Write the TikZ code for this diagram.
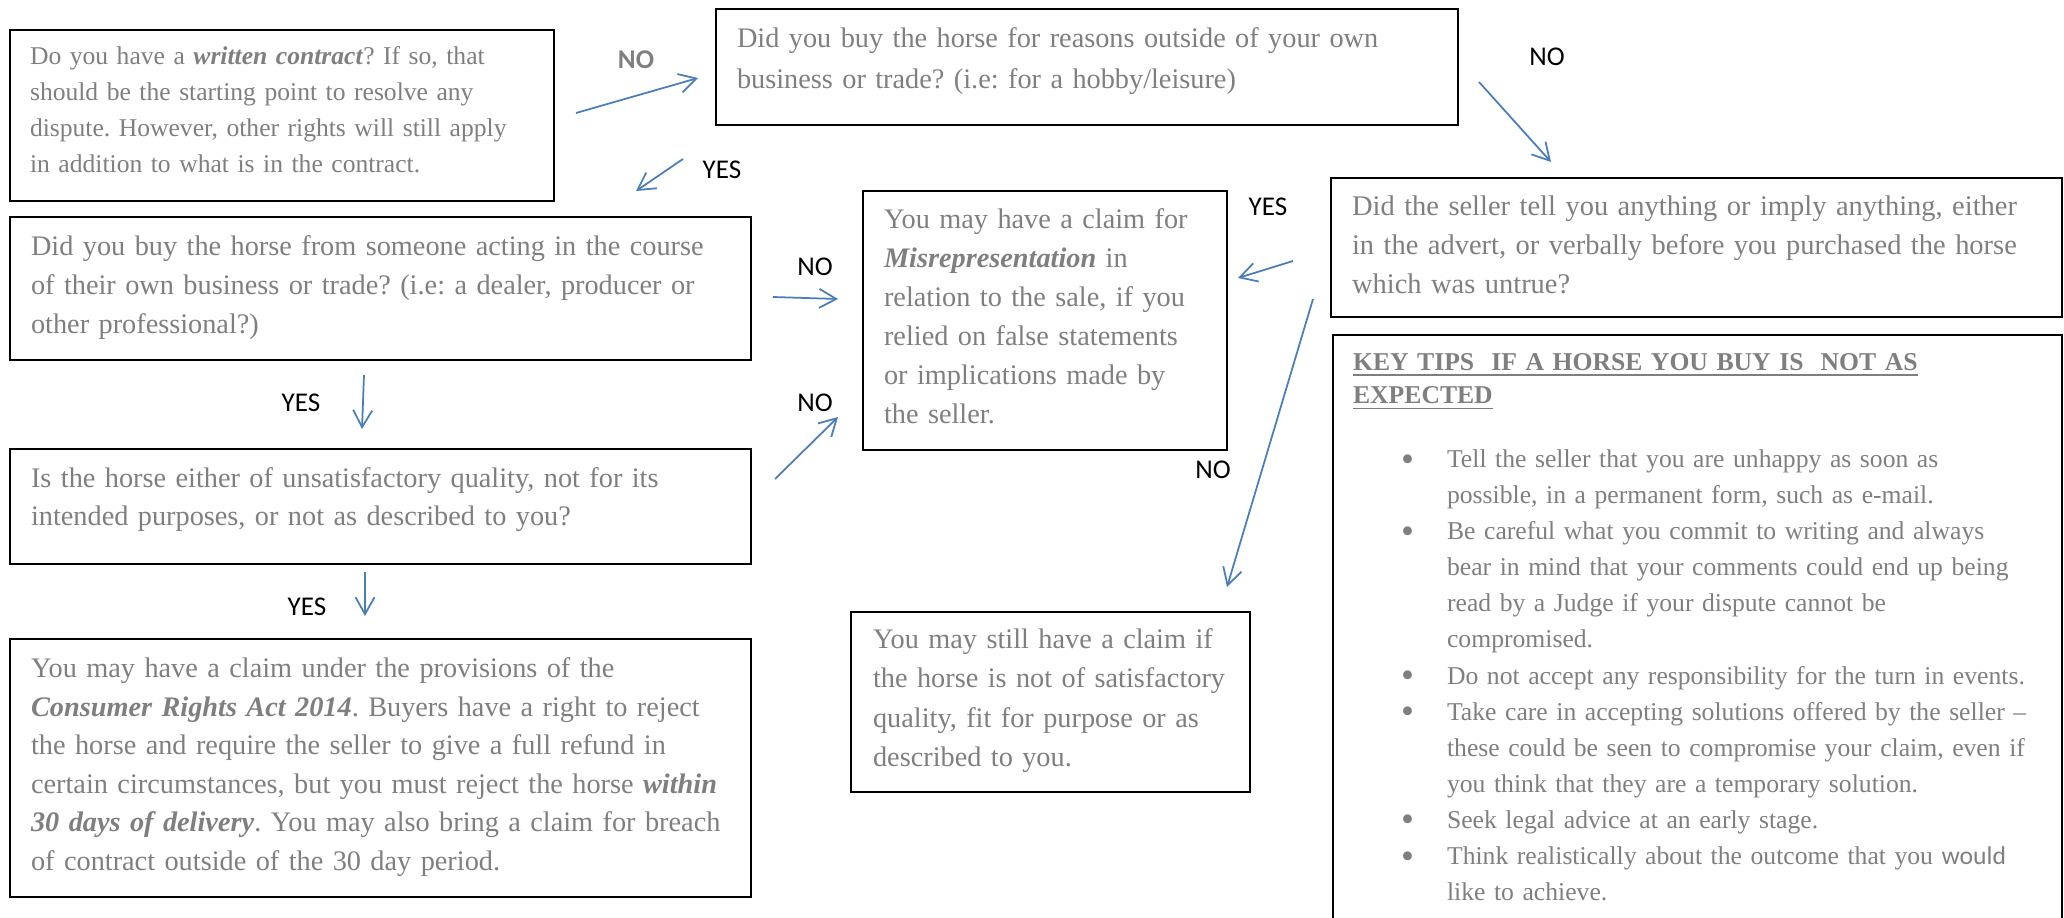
\documentclass[tikz,border=0pt]{standalone}
\usepackage{fontspec}
\setmainfont{Liberation Serif}
\setsansfont{Carlito}
\usetikzlibrary{arrows.meta}
\frenchspacing

\definecolor{textgray}{HTML}{7F7F7F}
\definecolor{linkblue}{HTML}{4A7EBB}

\newcommand{\keyterm}[1]{\textbf{\textit{#1}}}
\newcommand{\tipbullet}{\makebox[0.46cm][l]{\raisebox{-1pt}{\fontsize{10.5}{10}\selectfont\textbullet}}}
\newcommand{\tipindent}{\hspace*{0.46cm}}

\begin{document}
\begin{tikzpicture}[
            > = {Straight Barb[length=1.7mm, width=1.9mm]}, % open arrow head
            semithick % box line style
        ]

        \tikzstyle{qbox}=[
            draw = black,
            anchor = north west,
            inner sep = 0pt
        ]
        \tikzstyle{qtext}=[
            anchor = base west,
            inner sep = 0pt,
            align = left,
            text = textgray
        ]
        \tikzstyle{answer}=[
            font = \sffamily\fontsize{7.7}{9}\selectfont,
            inner sep = 0pt
        ]
        \tikzstyle{link}=[->, color = linkblue, line width = 0.5pt]

        \useasboundingbox (0,0) rectangle (20.64,-9.18);

        % boxes
        \node[qbox, minimum width=5.44cm, minimum height=1.71cm] (q1) at (0.09,-0.29) {};
        \node[qbox, minimum width=7.42cm, minimum height=1.16cm] (q2) at (7.15,-0.08) {};
        \node[qbox, minimum width=7.41cm, minimum height=1.43cm] (q3) at (0.09,-2.16) {};
        \node[qbox, minimum width=3.64cm, minimum height=2.59cm] (q4) at (8.62,-1.90) {};
        \node[qbox, minimum width=7.31cm, minimum height=1.39cm] (q5) at (13.30,-1.77) {};
        \node[qbox, minimum width=7.41cm, minimum height=1.15cm] (q6) at (0.09,-4.48) {};
        \node[qbox, minimum width=7.41cm, minimum height=2.58cm] (q7) at (0.09,-6.38) {};
        \node[qbox, minimum width=3.99cm, minimum height=1.80cm] (q8) at (8.50,-6.11) {};
        \node[qbox, minimum width=7.29cm, minimum height=6.20cm] (q9) at (13.32,-3.34) {};

        % box texts
        \node[qtext, text width=5.2cm, font=\fontsize{7.28}{10.24}\selectfont] (t1) at (0.29,-0.645)
            {Do you have a \keyterm{written contract}? If so, that\\
             should be the starting point to resolve any\\
             dispute. However, other rights will still apply\\
             in addition to what is in the contract.};
        \node[qtext, text width=7.2cm, font=\fontsize{8.05}{11.67}\selectfont] (t2) at (7.36,-0.475)
            {Did you buy the horse for reasons outside of your own\\
             business or trade? (i.e: for a hobby/leisure)};
        \node[qtext, text width=7.3cm, font=\fontsize{8.05}{11.1}\selectfont] (t3) at (0.30,-2.555)
            {Did you buy the horse from someone acting in the course\\
             of their own business or trade? (i.e: a dealer, producer or\\
             other professional?)};
        \node[qtext, text width=3.6cm, font=\fontsize{8.05}{11.1}\selectfont] (t4) at (8.83,-2.285)
            {You may have a claim for\\
             \keyterm{Misrepresentation} in\\
             relation to the sale, if you\\
             relied on false statements\\
             or implications made by\\
             the seller.};
        \node[qtext, text width=7.2cm, font=\fontsize{8.1}{11.1}\selectfont] (t5) at (13.51,-2.155)
            {Did the seller tell you anything or imply anything, either\\
             in the advert, or verbally before you purchased the horse\\
             which was untrue?};
        \node[qtext, text width=7.3cm, font=\fontsize{8.05}{10.9}\selectfont] (t6) at (0.30,-4.875)
            {Is the horse either of unsatisfactory quality, not for its\\
             intended purposes, or not as described to you?};
        \node[qtext, text width=7.6cm, font=\fontsize{8.05}{10.98}\selectfont] (t7) at (0.30,-6.775)
            {You may have a claim under the provisions of the\\
             \keyterm{Consumer Rights Act 2014}. Buyers have a right to reject\\
             the horse and require the seller to give a full refund in\\
             certain circumstances, but you must reject the horse \keyterm{within}\\
             \keyterm{30 days of delivery}. You may also bring a claim for breach\\
             of contract outside of the 30 day period.};
        \node[qtext, text width=3.9cm, font=\fontsize{8.05}{11.2}\selectfont] (t8) at (8.72,-6.485)
            {You may still have a claim if\\
             the horse is not of satisfactory\\
             quality, fit for purpose or as\\
             described to you.};
        \node[qtext, text width=7.0cm, font=\bfseries\fontsize{7.3}{9.4}\selectfont] (t9) at (13.52,-3.70)
            {\underline{KEY TIPS\ \ IF A HORSE YOU BUY IS\ \ NOT AS}\\
             \underline{EXPECTED}};
        \node[qtext, text width=6.6cm, font=\fontsize{7.3}{10.27}\selectfont] (tips) at (14.00,-4.675)
            {\tipbullet Tell the seller that you are unhappy as soon as\\
             \tipindent possible, in a permanent form, such as e-mail.\\
             \tipbullet Be careful what you commit to writing and always\\
             \tipindent bear in mind that your comments could end up being\\
             \tipindent read by a Judge if your dispute cannot be\\
             \tipindent compromised.\\
             \tipbullet Do not accept any responsibility for the turn in events.\\
             \tipbullet Take care in accepting solutions offered by the seller --\\
             \tipindent these could be seen to compromise your claim, even if\\
             \tipindent you think that they are a temporary solution.\\
             \tipbullet Seek legal advice at an early stage.\\
             \tipbullet Think realistically about the outcome that you {\sffamily would}\\
             \tipindent like to achieve.};

        % yes / no answers
        \node[answer, text=textgray] (no1) at (6.36,-0.60) {\textbf{NO}};
        \node[answer] (yes1) at (7.22,-1.70) {YES};
        \node[answer] (no2) at (15.47,-0.57) {NO};
        \node[answer] (no3) at (8.15,-2.67) {NO};
        \node[answer] (yes2) at (12.68,-2.07) {YES};
        \node[answer] (yes3) at (3.01,-4.03) {YES};
        \node[answer] (no4) at (8.15,-4.03) {NO};
        \node[answer] (no5) at (12.13,-4.70) {NO};
        \node[answer] (yes4) at (3.07,-6.07) {YES};

        % arrow ends
        \coordinate (s1) at (5.76,-1.13);
        \coordinate (e1) at (6.98,-0.78);
        \coordinate (s2) at (6.83,-1.59);
        \coordinate (e2) at (6.36,-1.91);
        \coordinate (s3) at (14.79,-0.82);
        \coordinate (e3) at (15.51,-1.62);
        \coordinate (s4) at (7.73,-2.97);
        \coordinate (e4) at (8.38,-2.99);
        \coordinate (s5) at (3.64,-3.75);
        \coordinate (e5) at (3.62,-4.29);
        \coordinate (s6) at (7.75,-4.79);
        \coordinate (e6) at (8.38,-4.17);
        \coordinate (s7) at (12.93,-2.61);
        \coordinate (e7) at (12.38,-2.78);
        \coordinate (s8) at (13.13,-2.99);
        \coordinate (e8) at (12.27,-5.87);
        \coordinate (s9) at (3.65,-5.72);
        \coordinate (e9) at (3.65,-6.16);

        \path[link] (s1) edge (e1);
        \path[link] (s2) edge (e2);
        \path[link] (s3) edge (e3);
        \path[link] (s4) edge (e4);
        \path[link] (s5) edge (e5);
        \path[link] (s6) edge (e6);
        \path[link] (s7) edge (e7);
        \path[link] (s8) edge (e8);
        \path[link] (s9) edge (e9);
    \end{tikzpicture}
\end{document}
